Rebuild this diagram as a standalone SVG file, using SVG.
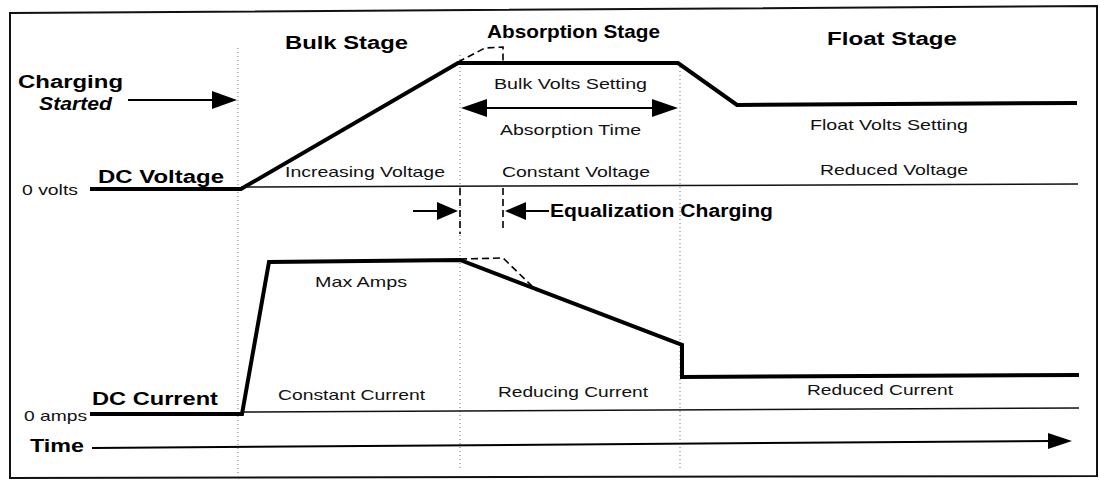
<svg xmlns="http://www.w3.org/2000/svg" width="1100" height="481" viewBox="0 0 1100 481">
<defs>
<style>
.frame{fill:none;stroke:#111;stroke-width:2}
.thick{fill:none;stroke:#000;stroke-width:4;stroke-linejoin:miter}
.thin{fill:none;stroke:#111;stroke-width:1.5}
.dash{fill:none;stroke:#000;stroke-width:1.6;stroke-dasharray:7 4}
.dot{fill:none;stroke:#888;stroke-width:1.2;stroke-dasharray:1 3}
.arr{fill:none;stroke:#000;stroke-width:2}
.head{fill:#000}
.b{font-family:"Liberation Sans",Arial,sans-serif;font-weight:bold;font-size:18px;fill:#000}
.r{font-family:"Liberation Sans",Arial,sans-serif;font-size:14.5px;fill:#111}
</style>
</defs>
<rect width="1100" height="481" fill="#fff"/>
<path class="frame" d="M10,13 L1097,6 L1097,476 L10,478 Z"/>

<g id="stage-dividers">
<line class="dot" x1="238" y1="48" x2="238" y2="476"/>
<line class="dot" x1="460" y1="55" x2="460" y2="470"/>
<line class="dot" x1="680" y1="63" x2="680" y2="470"/>
</g>

<g id="connectors">
<!-- voltage curve -->
<polyline class="thick" points="90,189 241,189 458,63 678,63 737,105 1077,103"/>
<line class="thin" x1="241" y1="187" x2="1078" y2="184"/>
<polyline class="dash" points="458,62 485,48 503,47 503,63"/>
<!-- current curve -->
<polyline class="thick" points="90,414 242,414 269,262 460,260 682,345 682,377 1079,375"/>
<line class="thin" x1="242" y1="412" x2="1079" y2="408"/>
<polyline class="dash" points="460,259 503,258 532,286"/>
<!-- equalization markers -->
<line class="dash" x1="460" y1="188" x2="460" y2="234"/>
<line class="dash" x1="503" y1="188" x2="503" y2="232"/>
<line class="arr" x1="413" y1="211" x2="440" y2="211"/>
<polygon class="head" points="437,202 458,211 437,220"/>
<line class="arr" x1="522" y1="211" x2="549" y2="211"/>
<polygon class="head" points="526,202 505,211 526,220"/>
<!-- charging started arrow -->
<line class="arr" x1="128" y1="100" x2="214" y2="100"/>
<polygon class="head" points="212,91 237,100 212,109"/>
<!-- absorption time arrow -->
<line class="arr" x1="480" y1="108" x2="658" y2="108"/>
<polygon class="head" points="487,99 461,108 487,117"/>
<polygon class="head" points="652,99 678,108 652,117"/>
<!-- time arrow -->
<line class="arr" stroke-width="2.6" x1="92" y1="448" x2="1052" y2="441"/>
<polygon class="head" points="1048,433 1072,441 1048,449"/>
</g>

<g id="stage-labels">
<text class="b" x="285" y="49" textLength="123" lengthAdjust="spacingAndGlyphs">Bulk Stage</text>
<text class="b" x="487" y="38" textLength="173" lengthAdjust="spacingAndGlyphs">Absorption Stage</text>
<text class="b" x="827" y="45" textLength="130" lengthAdjust="spacingAndGlyphs">Float Stage</text>
</g>

<g id="charging-started">
<text class="b" x="18" y="88" font-size="17" textLength="105" lengthAdjust="spacingAndGlyphs">Charging</text>
<text class="b" x="39" y="110" font-size="17" font-style="italic" textLength="73" lengthAdjust="spacingAndGlyphs">Started</text>
</g>

<g id="dc-voltage">
<text class="b" x="98" y="183" textLength="126" lengthAdjust="spacingAndGlyphs">DC Voltage</text>
<text class="r" x="22" y="195" textLength="56" lengthAdjust="spacingAndGlyphs">0 volts</text>
<text class="r" x="285" y="177" textLength="160" lengthAdjust="spacingAndGlyphs">Increasing Voltage</text>
<text class="r" x="494" y="89" textLength="153" lengthAdjust="spacingAndGlyphs">Bulk Volts Setting</text>
<text class="r" x="500" y="135" textLength="141" lengthAdjust="spacingAndGlyphs">Absorption Time</text>
<text class="r" x="502" y="177" textLength="148" lengthAdjust="spacingAndGlyphs">Constant Voltage</text>
<text class="r" x="810" y="130" textLength="158" lengthAdjust="spacingAndGlyphs">Float Volts Setting</text>
<text class="r" x="820" y="175" textLength="148" lengthAdjust="spacingAndGlyphs">Reduced Voltage</text>
</g>

<g id="equalization">
<text class="b" x="550" y="217" font-size="19" textLength="223" lengthAdjust="spacingAndGlyphs">Equalization Charging</text>
</g>

<g id="dc-current">
<text class="b" x="92" y="405" textLength="126" lengthAdjust="spacingAndGlyphs">DC Current</text>
<text class="r" x="24" y="421" textLength="63" lengthAdjust="spacingAndGlyphs">0 amps</text>
<text class="r" x="315" y="287" textLength="92" lengthAdjust="spacingAndGlyphs">Max Amps</text>
<text class="r" x="278" y="400" textLength="147" lengthAdjust="spacingAndGlyphs">Constant Current</text>
<text class="r" x="498" y="397" textLength="150" lengthAdjust="spacingAndGlyphs">Reducing Current</text>
<text class="r" x="807" y="395" textLength="146" lengthAdjust="spacingAndGlyphs">Reduced Current</text>
</g>

<g id="time">
<text class="b" x="30" y="452" textLength="54" lengthAdjust="spacingAndGlyphs">Time</text>
</g>
</svg>
